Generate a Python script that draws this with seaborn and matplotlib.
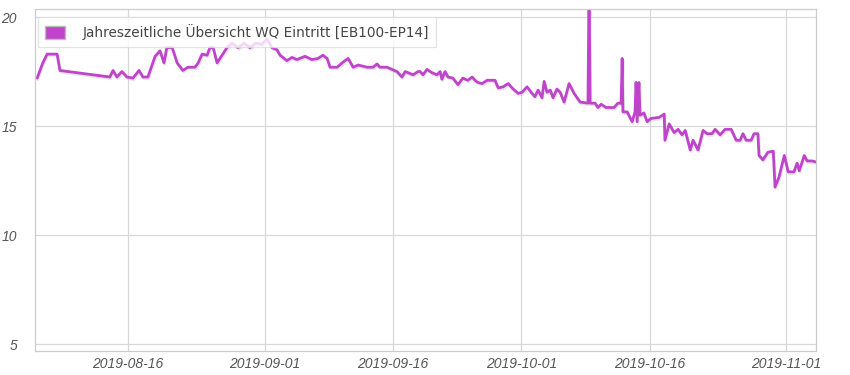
import pandas as pd
import numpy as np
import matplotlib
matplotlib.use('Agg')
import matplotlib.pyplot as plt
import matplotlib.dates as mdates
import matplotlib.patheffects as pe
from matplotlib.patches import Patch
import seaborn as sns

# readings of the WQ inflow
times = [
    '2019-08-05 09:00', '2019-08-06 01:00', '2019-08-06 13:00', '2019-08-07 17:00',
    '2019-08-08 01:00', '2019-08-13 21:00', '2019-08-14 06:00', '2019-08-14 17:00',
    '2019-08-15 07:00', '2019-08-15 21:00', '2019-08-16 14:00', '2019-08-17 07:00',
    '2019-08-17 18:00', '2019-08-18 08:00', '2019-08-19 04:00', '2019-08-19 18:00',
    '2019-08-20 05:00', '2019-08-20 13:00', '2019-08-21 04:00', '2019-08-21 18:00',
    '2019-08-22 10:00', '2019-08-23 00:00', '2019-08-23 20:00', '2019-08-24 05:00',
    '2019-08-24 16:00', '2019-08-25 06:00', '2019-08-25 14:00', '2019-08-25 23:00',
    '2019-08-26 10:00', '2019-08-27 00:00', '2019-08-27 14:00', '2019-08-28 04:00',
    '2019-08-28 21:00', '2019-08-29 14:00', '2019-08-30 06:00', '2019-08-30 23:00',
    '2019-08-31 16:00', '2019-09-01 06:00', '2019-09-01 20:00', '2019-09-02 10:00',
    '2019-09-02 19:00', '2019-09-03 14:00', '2019-09-04 04:00', '2019-09-04 18:00',
    '2019-09-05 17:00', '2019-09-06 12:00', '2019-09-07 05:00', '2019-09-07 19:00',
    '2019-09-08 07:00', '2019-09-08 15:00', '2019-09-09 11:00', '2019-09-10 01:00',
    '2019-09-10 09:00', '2019-09-10 18:00', '2019-09-11 08:00', '2019-09-11 22:00',
    '2019-09-12 23:00', '2019-09-13 16:00', '2019-09-14 03:00', '2019-09-14 11:00',
    '2019-09-15 07:00', '2019-09-15 21:00', '2019-09-16 11:00', '2019-09-17 01:00',
    '2019-09-17 10:00', '2019-09-17 18:00', '2019-09-18 08:00', '2019-09-18 22:00',
    '2019-09-19 04:00', '2019-09-19 12:00', '2019-09-19 23:00', '2019-09-20 13:00',
    '2019-09-21 03:00', '2019-09-21 12:00', '2019-09-21 17:00', '2019-09-22 02:00',
    '2019-09-22 10:00', '2019-09-23 00:00', '2019-09-23 14:00', '2019-09-24 04:00',
    '2019-09-24 18:00', '2019-09-25 06:00', '2019-09-25 14:00', '2019-09-25 22:00',
    '2019-09-26 10:00', '2019-09-27 00:00', '2019-09-27 22:00', '2019-09-28 07:00',
    '2019-09-28 21:00', '2019-09-29 11:00', '2019-09-30 01:00', '2019-09-30 15:00',
    '2019-10-01 02:00', '2019-10-01 16:00', '2019-10-02 06:00', '2019-10-02 14:00',
    '2019-10-02 23:00', '2019-10-03 10:00', '2019-10-03 16:00', '2019-10-04 00:00',
    '2019-10-04 09:00', '2019-10-04 17:00', '2019-10-05 04:00', '2019-10-05 13:00',
    '2019-10-06 00:00', '2019-10-06 14:00', '2019-10-07 04:00', '2019-10-07 21:00',
    '2019-10-08 19:00', '2019-10-08 22:00', '2019-10-09 01:00', '2019-10-09 15:00',
    '2019-10-09 23:00', '2019-10-10 08:00', '2019-10-10 22:00', '2019-10-11 20:00',
    '2019-10-12 07:00', '2019-10-12 16:00', '2019-10-12 19:00', '2019-10-12 21:00',
    '2019-10-13 09:00', '2019-10-13 23:00', '2019-10-14 07:00', '2019-10-14 10:00',
    '2019-10-14 13:00', '2019-10-14 18:00', '2019-10-14 21:00', '2019-10-15 08:00',
    '2019-10-15 17:00', '2019-10-16 04:00', '2019-10-17 03:00', '2019-10-17 17:00',
    '2019-10-17 19:00', '2019-10-18 07:00', '2019-10-18 21:00', '2019-10-19 08:00',
    '2019-10-19 19:00', '2019-10-20 04:00', '2019-10-20 18:00', '2019-10-21 02:00',
    '2019-10-21 16:00', '2019-10-22 06:00', '2019-10-22 17:00', '2019-10-23 07:00',
    '2019-10-23 16:00', '2019-10-24 06:00', '2019-10-24 20:00', '2019-10-25 13:00',
    '2019-10-26 03:00', '2019-10-26 14:00', '2019-10-26 22:00', '2019-10-27 07:00',
    '2019-10-27 21:00', '2019-10-28 05:00', '2019-10-28 16:00', '2019-10-28 19:00',
    '2019-10-29 06:00', '2019-10-29 20:00', '2019-10-30 11:00', '2019-10-30 16:00',
    '2019-10-31 03:00', '2019-10-31 18:00', '2019-11-01 05:00', '2019-11-01 21:00',
    '2019-11-02 06:00', '2019-11-02 12:00', '2019-11-03 02:00', '2019-11-03 10:00',
    '2019-11-04 00:00', '2019-11-04 11:00',
]
values = [
    17.2, 17.9, 18.3, 18.3, 17.55, 17.25, 17.55, 17.25,
    17.5, 17.25, 17.2, 17.55, 17.25, 17.25, 18.2, 18.45,
    17.9, 18.6, 18.6, 17.9, 17.55, 17.7, 17.7, 17.9,
    18.3, 18.25, 18.6, 18.6, 17.9, 18.25, 18.6, 18.8,
    18.6, 18.8, 18.6, 18.8, 18.75, 19.0, 18.6, 18.5,
    18.25, 18.0, 18.15, 18.05, 18.2, 18.05, 18.1, 18.25,
    18.1, 17.7, 17.7, 17.9, 18.0, 18.1, 17.7, 17.8,
    17.7, 17.7, 17.85, 17.7, 17.7, 17.6, 17.5, 17.25,
    17.5, 17.45, 17.35, 17.5, 17.5, 17.35, 17.6, 17.45,
    17.35, 17.5, 17.15, 17.5, 17.25, 17.2, 16.9, 17.2,
    17.1, 17.25, 17.1, 17.0, 16.95, 17.1, 17.1, 16.75,
    16.8, 16.95, 16.7, 16.5, 16.55, 16.8, 16.5, 16.35,
    16.65, 16.3, 17.05, 16.55, 16.65, 16.3, 16.7, 16.55,
    16.1, 16.95, 16.5, 16.1, 16.05, 21.5, 16.05, 16.05,
    15.85, 16.0, 15.85, 15.85, 16.05, 16.05, 18.1, 15.65,
    15.65, 15.2, 15.65, 17.0, 15.2, 17.0, 15.5, 15.6,
    15.2, 15.35, 15.4, 15.55, 14.35, 15.1, 14.7, 14.85,
    14.6, 14.8, 13.9, 14.35, 13.9, 14.8, 14.65, 14.65,
    14.85, 14.6, 14.85, 14.85, 14.35, 14.35, 14.65, 14.35,
    14.35, 14.65, 14.65, 13.65, 13.45, 13.8, 13.85, 12.2,
    12.65, 13.65, 12.9, 12.9, 13.3, 12.95, 13.65, 13.4,
    13.4, 13.35,
]
series_name = 'Jahreszeitliche Übersicht WQ Eintritt [EB100-EP14]'
y_ticks = [5, 10, 15, 20]
x_ticks = ['2019-08-16', '2019-09-01', '2019-09-16', '2019-10-01', '2019-10-16', '2019-11-01']

line_color = '#c043cc'

df = pd.DataFrame({'Zeit': pd.to_datetime(times), 'Wert': values})

sns.set_style('white')
fig = plt.figure(figsize=(8.5, 3.75), dpi=100)
ax = fig.add_axes([35 / 850, 1 - 351 / 375, 781 / 850, 342 / 375])

sns.lineplot(data=df, x='Zeit', y='Wert', ax=ax, color=line_color, linewidth=2.0,
             path_effects=[pe.SimpleLineShadow(offset=(0.6, -1.2), shadow_color='#999999', alpha=0.25),
                           pe.Normal()])

ax.set_xlim(pd.Timestamp('2019-08-05 03:00'), pd.Timestamp('2019-11-04 11:00'))
ax.set_ylim(4.68, 20.37)
ax.set_yticks(y_ticks)
ax.set_xticks(pd.to_datetime(x_ticks))
ax.xaxis.set_major_formatter(mdates.DateFormatter('%Y-%m-%d'))
ax.grid(True, color='#d8d8d8', linewidth=0.9)
ax.set_xlabel('')
ax.set_ylabel('')
for s in ax.spines.values():
    s.set_color('#cccccc')
    s.set_linewidth(0.9)
ax.tick_params(axis='both', length=0, colors='#555555', labelsize=10)
ax.tick_params(axis='y', pad=13)
ax.tick_params(axis='x', pad=4)
for lab in ax.get_xticklabels() + ax.get_yticklabels():
    lab.set_fontstyle('italic')
    lab.set_family('Liberation Sans')

handle = Patch(facecolor=line_color, edgecolor='#bbbbbb', linewidth=1.0)
leg = ax.legend([handle], [series_name], loc='upper left', bbox_to_anchor=(3 / 781, 1 - 8 / 342),
                frameon=True, fancybox=False, framealpha=0.8, edgecolor='#dddddd',
                fontsize=9.8, handlelength=1.5, handleheight=1.1, handletextpad=1.3,
                borderpad=0.5, borderaxespad=0)
leg.get_frame().set_linewidth(0.9)
for t in leg.get_texts():
    t.set_color('#444444')

plt.savefig('out.png', dpi=100)
